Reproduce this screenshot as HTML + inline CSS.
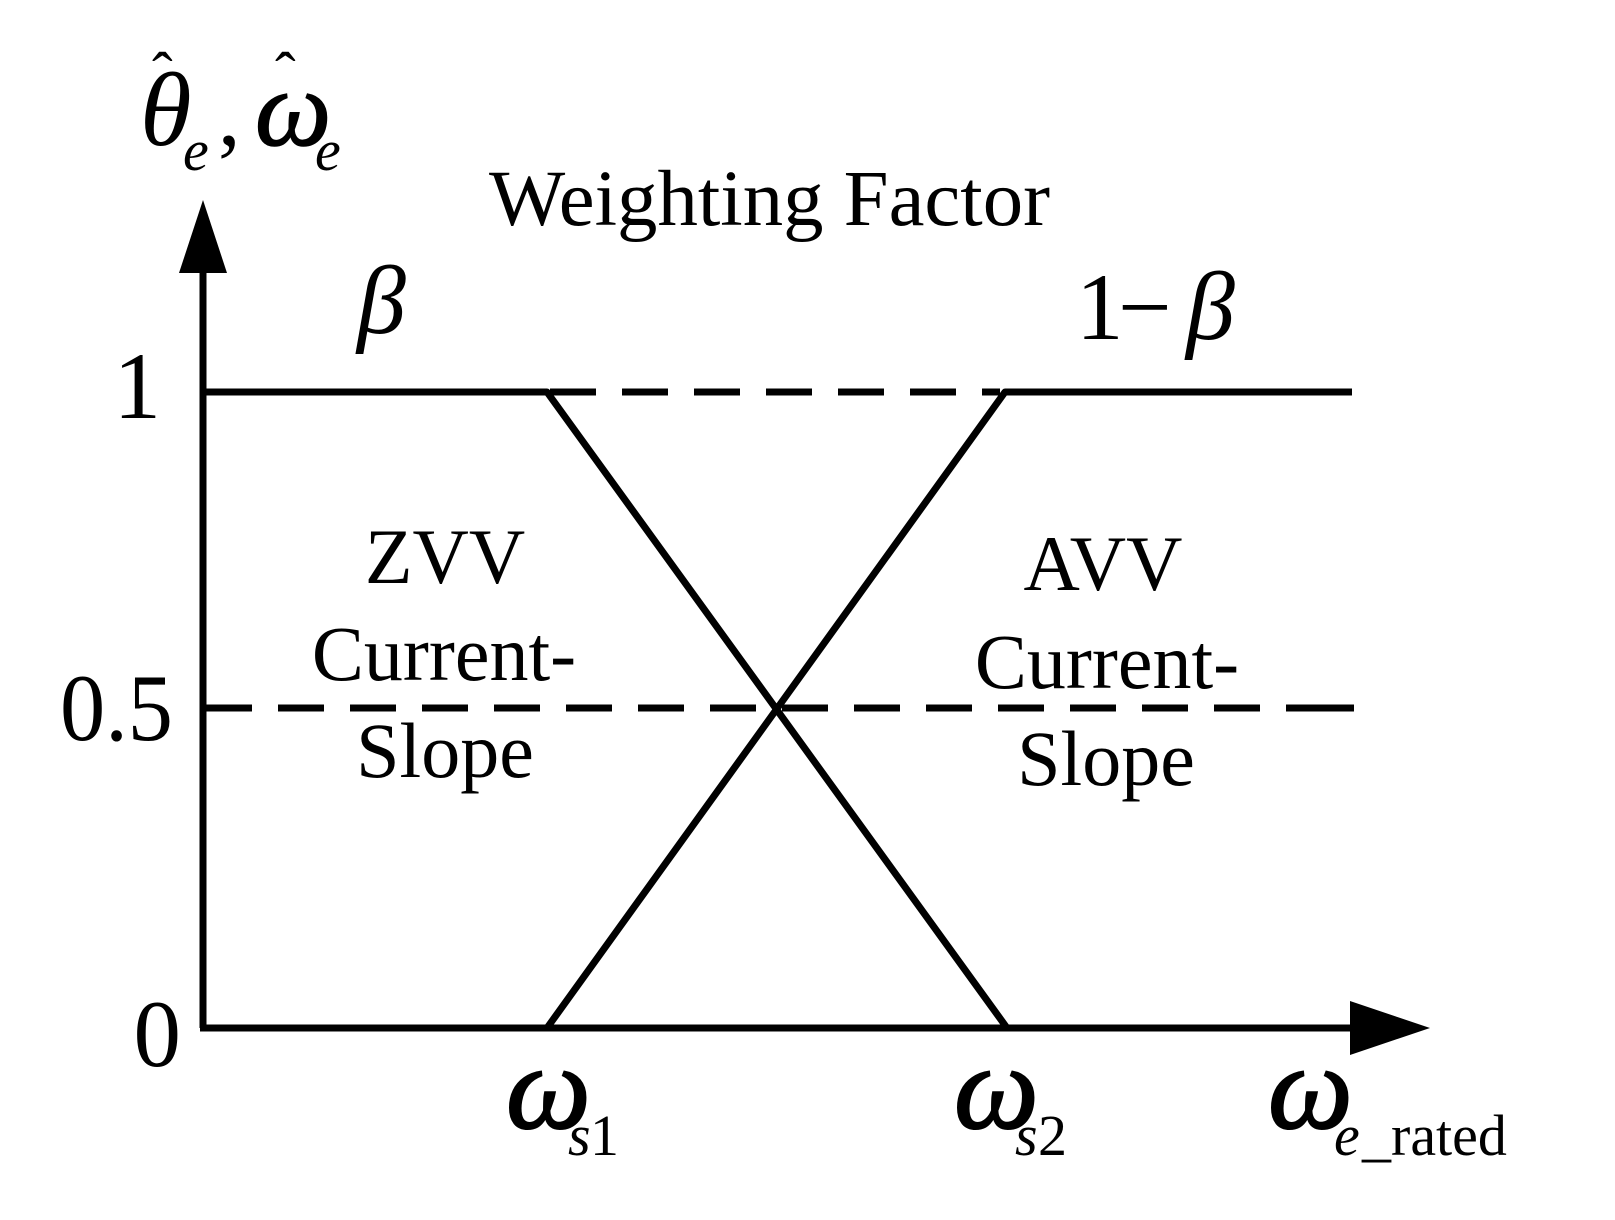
<!DOCTYPE html>
<html><head><meta charset="utf-8"><style>
html,body{margin:0;padding:0;background:#fff;}
svg{display:block;}
text{font-family:"Liberation Serif","DejaVu Serif",serif;fill:#000;}
</style></head><body>
<svg width="1615" height="1220" viewBox="0 0 1615 1220" xmlns="http://www.w3.org/2000/svg">
<g stroke="#000" stroke-width="7" fill="none" stroke-linejoin="round">
  <line x1="203" y1="1028" x2="203" y2="268"/>
  <line x1="200" y1="1028" x2="1352" y2="1028"/>
  <polyline points="200,392 547,392 1007,1028"/>
  <polyline points="547,1028 1005,392 1352,392"/>
  <line x1="550" y1="392" x2="1000" y2="392" stroke-dasharray="46 26"/>
  <line x1="206" y1="708" x2="1354" y2="708" stroke-dasharray="46 26"/>
  <line x1="1318" y1="708" x2="1354" y2="708"/>
</g>
<polygon points="203,200 179,273 227,273" fill="#000"/>
<polygon points="1430,1028 1350,1001 1350,1055" fill="#000"/>

<text x="140" y="145" font-size="105" font-style="italic">θ</text>
<text x="152" y="95" font-size="62">ˆ</text>
<text x="183" y="170" font-size="58" font-style="italic">e</text>
<text x="218" y="145" font-size="90">,</text>
<text x="255" y="145" font-size="108" font-style="italic" stroke="#000" stroke-width="1.5">ω</text>
<text x="275" y="95" font-size="62">ˆ</text>
<text x="315" y="170" font-size="58" font-style="italic">e</text>

<text x="489" y="225" font-size="79" textLength="561" lengthAdjust="spacingAndGlyphs">Weighting Factor</text>
<text x="357" y="333" font-size="98" font-style="italic">β</text>
<text x="1076" y="339" font-size="95">1</text>
<text x="1118" y="339" font-size="95">−</text>
<text x="1186" y="339" font-size="98" font-style="italic">β</text>

<text x="161" y="418" font-size="95" text-anchor="end">1</text>
<text x="173" y="740" font-size="95" text-anchor="end" textLength="113" lengthAdjust="spacingAndGlyphs">0.5</text>
<text x="181" y="1066" font-size="95" text-anchor="end">0</text>

<g font-size="78" text-anchor="middle">
  <text x="445" y="583">ZVV</text>
  <text x="444" y="680">Current-</text>
  <text x="445" y="777">Slope</text>
  <text x="1103" y="590">AVV</text>
  <text x="1107" y="688">Current-</text>
  <text x="1106" y="785">Slope</text>
</g>

<g font-size="120" font-style="italic" stroke="#000" stroke-width="2">
<text x="506" y="1128">ω</text>
<text x="954" y="1128">ω</text>
<text x="1268" y="1128">ω</text>
</g>
<text x="568" y="1155" font-size="58" font-style="italic">s</text>
<text x="590" y="1155" font-size="58">1</text>
<text x="1015" y="1155" font-size="58" font-style="italic">s</text>
<text x="1038" y="1155" font-size="58">2</text>
<text x="1334" y="1155" font-size="58" font-style="italic">e</text>
<text x="1362" y="1155" font-size="58">_rated</text>
</svg>
</body></html>
